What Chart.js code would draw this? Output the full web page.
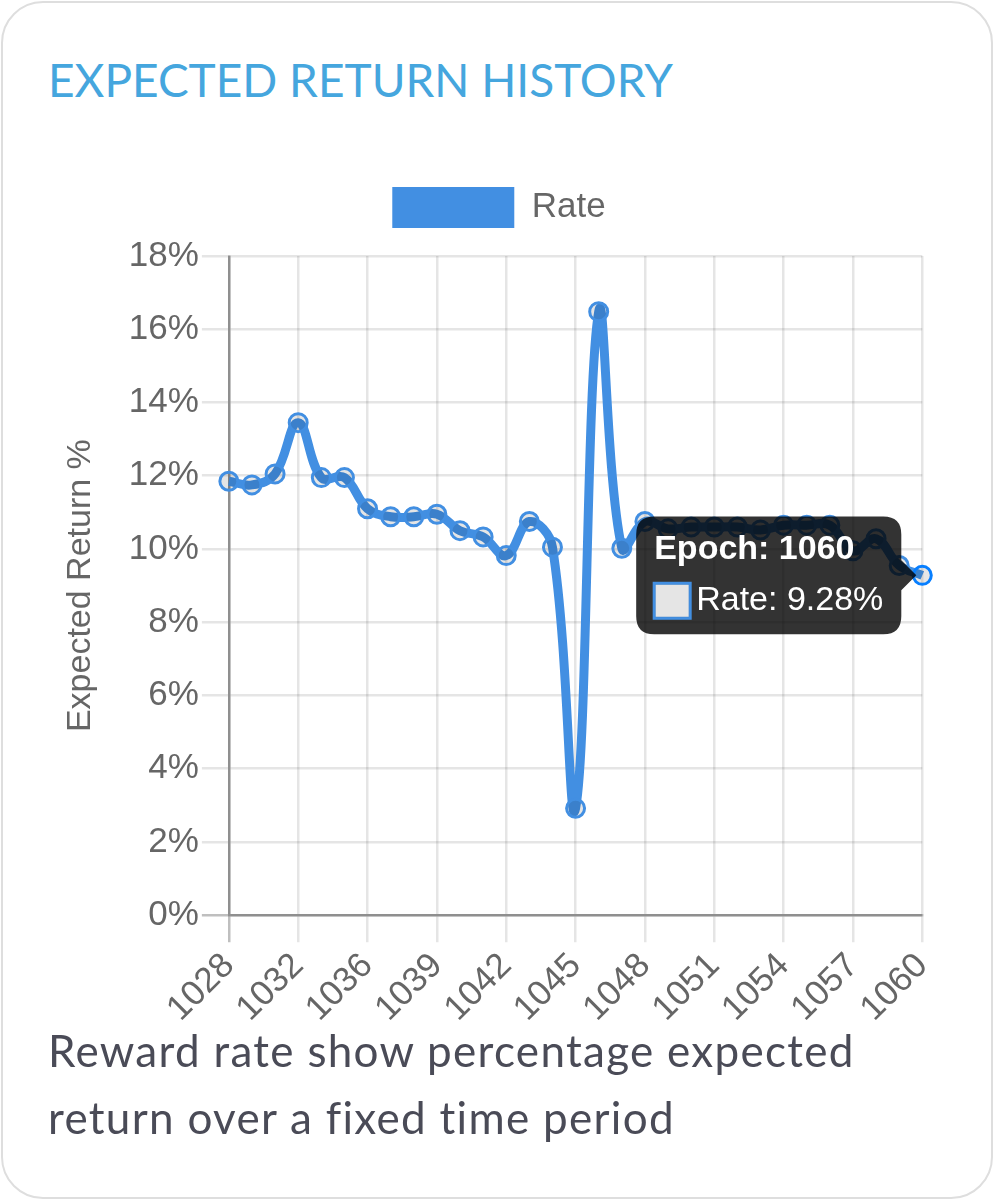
<!DOCTYPE html>
<html>
<head>
<meta charset="utf-8">
<script src="https://cdn.jsdelivr.net/npm/chart.js@4.4.1/dist/chart.umd.min.js"></script>
<style>
  html, body { margin: 0; padding: 0; background: #fff; }
  body { width: 996px; height: 1200px; position: relative; overflow: hidden; }
  .card {
    position: absolute; left: 1px; top: 1px; width: 988px; height: 1194px;
    border: 2px solid #dedede; border-radius: 42px; background: #fff;
  }
  .title {
    position: absolute; left: 48px; top: 52px; margin: 0;
    font-family: Lato, sans-serif; font-weight: 400; font-size: 46px;
    color: #45a6de; white-space: nowrap;
  }
  .chart-box { position: absolute; left: 57px; top: 157px; width: 898px; height: 876px; }
  .note {
    position: absolute; left: 48px; top: 1017px; width: 870px; margin: 0;
    font-family: Lato, sans-serif; font-size: 44px; line-height: 67px;
    letter-spacing: 1.3px; color: #4a4b57;
  }
</style>
</head>
<body>
<div class="card"></div>
<h1 class="title">EXPECTED RETURN HISTORY</h1>
<div class="chart-box"><canvas id="rate-chart"></canvas></div>
<p class="note">Reward rate show percentage expected return over a fixed time period</p>
<script>
  // epochs on the x axis (two epochs missing at the start)
  const epochs = [1028, 1029, 1031, 1032, 1033, 1035, 1036, 1037, 1038, 1039, 1040,
                  1041, 1042, 1043, 1044, 1045, 1046, 1047, 1048, 1049, 1050, 1051,
                  1052, 1053, 1054, 1055, 1056, 1057, 1058, 1059, 1060];

  // expected return, %
  const rates = [11.85, 11.75, 12.05, 13.45, 11.95, 11.95, 11.1, 10.88, 10.88, 10.95, 10.5,
                 10.33, 9.82, 10.75, 10.05, 2.92, 16.48, 10.02, 10.75, 10.55, 10.6, 10.6,
                 10.6, 10.52, 10.65, 10.65, 10.65, 9.95, 10.28, 9.55, 9.28];

  const yTicks = [0, 2, 4, 6, 8, 10, 12, 14, 16, 18];

  const blue = "rgb(66, 143, 226)";
  const fontFamily = "'Liberation Sans', Arial, sans-serif";
  const gridColor = ctx => ctx.index === 0 ? "rgba(0,0,0,0.25)" : "rgba(0,0,0,0.1)";

  Chart.defaults.font.family = fontFamily;
  Chart.defaults.color = "#666";

  // more room under the legend, and nudge it a little to the left
  const legendSpace = {
    id: "legendSpace",
    beforeInit(chart) {
      const fit = chart.legend.fit;
      chart.legend.fit = function() {
        fit.call(this);
        this.height += 18;
      };
    },
    afterLayout(chart) {
      chart.legend.left -= 7;
      chart.legend.right -= 7;
    }
  };

  const ctx = document.getElementById("rate-chart").getContext("2d");
  const chart = new Chart(ctx, {
    type: "line",
    plugins: [legendSpace],
    data: {
      labels: epochs.map(String),
      datasets: [{
        label: "Rate",
        data: rates,
        borderColor: blue,
        backgroundColor: blue,
        borderWidth: 9,
        tension: 0.4,
        fill: false,
        pointRadius: 9,
        pointHoverRadius: 9,
        pointBorderWidth: 3,
        pointHoverBorderWidth: 3,
        pointBorderColor: blue,
        pointBackgroundColor: "rgba(0,0,0,0.1)"
      }]
    },
    options: {
      responsive: true,
      maintainAspectRatio: false,
      animation: false,
      events: [],
      plugins: {
        legend: {
          labels: {
            boxWidth: 122, boxHeight: 41, padding: 30, font: { size: 35 }, color: "#666",
            generateLabels: chart => Chart.defaults.plugins.legend.labels.generateLabels(chart)
              .map(l => Object.assign(l, { lineWidth: 0, strokeStyle: "rgba(0,0,0,0)" }))
          }
        },
        tooltip: {
          backgroundColor: "rgba(0,0,0,0.8)",
          padding: { x: 18, y: 13 },
          caretSize: 15,
          caretPadding: 6,
          cornerRadius: 18,
          titleFont: { size: 34, weight: "bold" },
          bodyFont: { size: 34 },
          titleMarginBottom: 10,
          boxWidth: 36,
          boxHeight: 35,
          boxPadding: 4,
          callbacks: {
            title: items => "Epoch: " + items[0].label,
            label: item => "Rate: " + item.parsed.y + "%"
          }
        }
      },
      scales: {
        x: {
          grid: { color: gridColor, lineWidth: 2.5, tickLength: 27 },
          border: { color: "rgba(0,0,0,0.25)", width: 2.5 },
          ticks: { autoSkip: false, minRotation: 45, maxRotation: 45, padding: 3, font: { size: 35 } },
          afterBuildTicks: axis => { axis.ticks = axis.ticks.filter((t, i) => i % 3 === 0); }
        },
        y: {
          min: 0,
          max: 18,
          afterBuildTicks: axis => { axis.ticks = yTicks.map(v => ({ value: v })); },
          grid: { color: gridColor, lineWidth: 2.5, tickLength: 27 },
          border: { color: "rgba(0,0,0,0.25)", width: 2.5 },
          ticks: { padding: 3, font: { size: 35 }, callback: v => v + "%" },
          title: {
            display: true, text: "Expected Return %", font: { size: 34 }, color: "#666",
            padding: { top: 3, bottom: 25 }
          }
        }
      }
    }
  });

  // show the tooltip on the last epoch, as in the screenshot
  const last = rates.length - 1;
  const pt = chart.getDatasetMeta(0).data[last];
  chart.setActiveElements([{ datasetIndex: 0, index: last }]);
  chart.tooltip.setActiveElements([{ datasetIndex: 0, index: last }], { x: pt.x, y: pt.y });
  chart.update("none");
</script>
</body>
</html>
